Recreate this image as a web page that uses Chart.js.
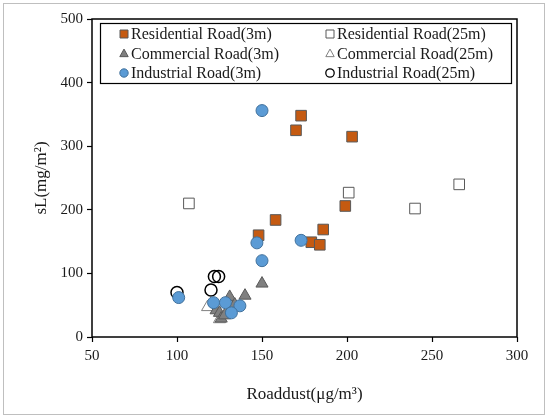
<!DOCTYPE html>
<html>
<head>
<meta charset="utf-8">
<script src="https://cdn.jsdelivr.net/npm/chart.js@4.4.1/dist/chart.umd.min.js"></script>
<style>
  html, body { margin: 0; padding: 0; background: #fff; }
  #wrap { width: 550px; height: 418px; position: relative; }
</style>
</head>
<body>
<div id="wrap"><canvas id="mycanvas"></canvas></div>
<script>
// values (x = Roaddust, y = sL)
var resid3X = [173, 170, 203, 199, 158, 186, 148, 179, 184];
var resid3Y = [348, 325, 315, 206, 184, 169, 160, 149, 145];
var resid25X = [107, 201, 240, 266];
var resid25Y = [210, 227, 202, 240];
var comm3X = [123, 125, 126, 128, 131, 134, 140, 150];
var comm3Y = [42, 38, 29, 34, 63, 51, 65, 84];
var comm25X = [118, 125];
var comm25Y = [47, 28];
var ind3X = [150, 147, 173, 150, 101, 121.5, 128.5, 137, 132];
var ind3Y = [356, 148, 152, 120, 62, 54, 54, 49, 38];
var ind25X = [100, 120, 122, 124.5];
var ind25Y = [70, 74, 95, 95];

var xTicks = [50, 100, 150, 200, 250, 300];
var yTicks = [0, 100, 200, 300, 400, 500];

function pts(xs, ys) {
	var out = [];
	for (var i in xs) {
		out.push({ x: xs[i], y: ys[i] });
	}
	return out;
}

var series = [
	{ label: 'Residential Road(3m)', data: pts(resid3X, resid3Y), pointStyle: 'rect', pointRadius: 7.5,
	  backgroundColor: '#C55A11', borderColor: '#595959', order: 2 },
	{ label: 'Residential Road(25m)', data: pts(resid25X, resid25Y), pointStyle: 'rect', pointRadius: 7.5,
	  backgroundColor: '#fff', borderColor: '#595959', order: 5 },
	{ label: 'Commercial Road(3m)', data: pts(comm3X, comm3Y), pointStyle: 'triangle', pointRadius: 7,
	  backgroundColor: '#808080', borderColor: '#595959', order: 4 },
	{ label: 'Commercial Road(25m)', data: pts(comm25X, comm25Y), pointStyle: 'triangle', pointRadius: 7,
	  backgroundColor: '#fff', borderColor: '#808080', order: 6 },
	{ label: 'Industrial Road(3m)', data: pts(ind3X, ind3Y), pointStyle: 'circle', pointRadius: 6,
	  backgroundColor: '#5B9BD5', borderColor: '#41719C', order: 1 },
	{ label: 'Industrial Road(25m)', data: pts(ind25X, ind25Y), pointStyle: 'circle', pointRadius: 6,
	  backgroundColor: 'rgba(255,255,255,0)', borderColor: '#000', order: 3 }
];
var datasets = [];
for (var i in series) {
	var s = series[i];
	datasets.push({
		label: s.label,
		data: s.data,
		pointStyle: s.pointStyle,
		pointRadius: s.pointRadius,
		pointHoverRadius: s.pointRadius,
		backgroundColor: s.backgroundColor,
		borderColor: s.borderColor,
		borderWidth: s.borderColor == '#000' ? 1.5 : 1,
		order: s.order
	});
}

function marker(ctx, style, x, y, r, fill, stroke, lw) {
	ctx.save();
	ctx.fillStyle = fill;
	ctx.strokeStyle = stroke;
	ctx.lineWidth = lw;
	ctx.beginPath();
	if (style == 'rect') {
		ctx.rect(x - r, y - r, 2 * r, 2 * r);
	} else if (style == 'triangle') {
		ctx.moveTo(x, y - r * 1.05);
		ctx.lineTo(x + r, y + r * 0.75);
		ctx.lineTo(x - r, y + r * 0.75);
		ctx.closePath();
	} else {
		ctx.arc(x, y, r, 0, Math.PI * 2);
	}
	ctx.fill();
	ctx.stroke();
	ctx.restore();
}

var framePlugin = {
	id: 'frame',
	beforeDraw: function(chart) {
		var ctx = chart.ctx;
		ctx.save();
		ctx.strokeStyle = '#bfbfbf';
		ctx.lineWidth = 1;
		ctx.strokeRect(3.5, 3.5, 541, 411);
		ctx.restore();
	},
	afterDatasetsDraw: function(chart) {
		var ctx = chart.ctx;
		var a = chart.chartArea;
		ctx.save();
		ctx.strokeStyle = '#000';
		ctx.lineWidth = 1.5;
		ctx.strokeRect(a.left, a.top, a.right - a.left, a.bottom - a.top);

		// legend box with two columns
		ctx.fillStyle = '#fff';
		ctx.fillRect(100, 23, 412, 60);
		ctx.lineWidth = 1.2;
		ctx.strokeRect(100.5, 23.5, 411, 60);
		ctx.font = '16px "Liberation Serif", "Times New Roman", serif';
		ctx.textBaseline = 'middle';
		ctx.fillStyle = '#1a1a1a';
		var rows = [34, 53.5, 73];
		var cols = [{ m: 124, t: 131 }, { m: 330, t: 337 }];
		for (var k = 0; k < series.length; k++) {
			var s = series[k];
			var row = rows[Math.floor(k / 2)];
			var col = cols[k % 2];
			marker(ctx, s.pointStyle, col.m, row, s.pointStyle == 'rect' ? 4 : 4.2, s.backgroundColor, s.borderColor,
				s.borderColor == '#000' ? 1.3 : 1);
			ctx.fillStyle = '#1a1a1a';
			ctx.fillText(s.label, col.t, row + 1);
		}
		ctx.restore();
	}
};

var serif = '"Liberation Serif", "Times New Roman", serif';
var ctx = document.getElementById('mycanvas');
var scatter = new Chart(ctx, {
	type: 'scatter',
	data: { datasets: datasets },
	plugins: [framePlugin],
	options: {
		responsive: true,
		maintainAspectRatio: false,
		animation: false,
		events: [],
		layout: { padding: { left: 27, right: 33, top: 19, bottom: 9 } },
		plugins: {
			legend: { display: false },
			tooltip: { enabled: false }
		},
		scales: {
			x: {
				type: 'linear',
				min: 50,
				max: 300,
				afterBuildTicks: function(axis) {
					axis.ticks = xTicks.map(function(v) { return { value: v }; });
				},
				afterFit: function(axis) { axis.height = 72; },
				grid: { display: true, drawOnChartArea: false, color: '#000', tickLength: 5, tickWidth: 1.2 },
				border: { display: false },
				ticks: { color: '#1a1a1a', font: { family: serif, size: 15 }, padding: 5, maxRotation: 0 },
				title: { display: true, text: 'Roaddust(μg/m³)', color: '#1a1a1a', font: { family: serif, size: 17 }, padding: { top: 8 } }
			},
			y: {
				type: 'linear',
				min: 0,
				max: 500,
				afterBuildTicks: function(axis) {
					axis.ticks = yTicks.map(function(v) { return { value: v }; });
				},
				afterFit: function(axis) { axis.width = 65; },
				grid: { display: true, drawOnChartArea: false, color: '#000', tickLength: 5, tickWidth: 1.2 },
				border: { display: false },
				ticks: { color: '#1a1a1a', font: { family: serif, size: 15 }, padding: 4 },
				title: { display: true, text: 'sL(mg/m²)', color: '#1a1a1a', font: { family: serif, size: 17 }, padding: { bottom: 0 } }
			}
		}
	}
});
</script>
</body>
</html>
